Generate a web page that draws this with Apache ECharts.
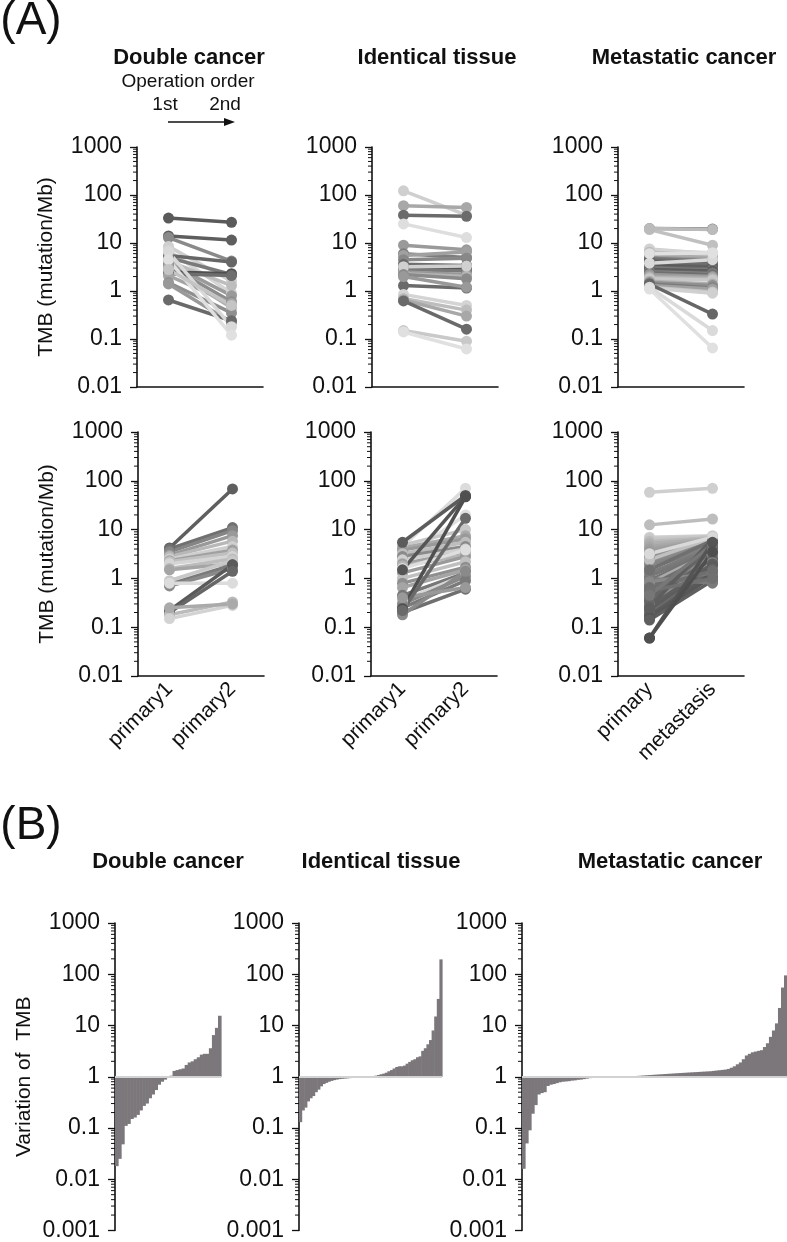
<!DOCTYPE html>
<html><head><meta charset="utf-8">
<script src="https://cdn.jsdelivr.net/npm/echarts@6/dist/echarts.min.js"></script>
<style>html,body{margin:0;padding:0;background:#fff}#c{width:787px;height:1242px}</style>
</head><body><div id="c"></div>
<script>
const FONT = '"Liberation Sans", Arial, sans-serif';

// ---------- Panel A data (TMB, mutation/Mb) ----------
const catsPrimary = ['primary1', 'primary2'];
const catsMet = ['primary', 'metastasis'];
const yTicksA = [0.01, 0.1, 1, 10, 100, 1000];
const yTicksB = [0.001, 0.01, 0.1, 1, 10, 100, 1000];

// Double cancer, TMB decreased
const dcDownFirst  = [33, 14, 13, 8.5, 7, 5.5, 5, 4.2, 3.8, 3.4, 3, 2.5, 2.3, 2.1, 1.5, 1.4, 0.65, 6.5, 4.5, 2.8];
const dcDownSecond = [27, 11.5, 4.2, 1.6, 0.9, 4.0, 2.2, 1.3, 0.8, 0.6, 0.45, 2.3, 2.1, 0.55, 0.35, 0.22, 0.24, 0.18, 0.12, 0.5];
const dcDownShade  = ['#5a5a5a','#5e5e5e','#8a8a8a','#cfcfcf','#d5d5d5','#666666','#7a7a7a','#bdbdbd','#9a9a9a','#8c8c8c','#b0b0b0','#4f4f4f','#6e6e6e','#a5a5a5','#8f8f8f','#999999','#6a6a6a','#d9d9d9','#e0e0e0','#c4c4c4'];

// Identical tissue, TMB decreased
const itDownFirst  = [122, 60, 38, 25, 9, 6, 5.5, 4.5, 3.6, 3.3, 3.0, 2.8, 2.5, 2.3, 3.2, 2.2, 1.3, 0.85, 0.7, 0.65, 0.62, 0.15, 0.14, 2.0];
const itDownSecond = [38, 55, 36, 13, 7.2, 5, 6.5, 4.8, 3.4, 3.1, 2.9, 2.6, 2.2, 2.0, 3.3, 1.8, 1.15, 0.5, 0.4, 0.3, 0.16, 0.09, 0.062, 1.2];
const itDownShade  = ['#cfcfcf','#a8a8a8','#6b6b6b','#dedede','#9a9a9a','#7d7d7d','#a0a0a0','#888888','#6e6e6e','#5f5f5f','#555555','#7a7a7a','#999999','#b5b5b5','#d0d0d0','#8a8a8a','#6a6a6a','#d4d4d4','#bdbdbd','#a8a8a8','#6a6a6a','#c9c9c9','#e0e0e0','#999999'];

// Metastatic cancer, TMB decreased
const mcDownFirst  = [20, 19, 20, 7.5, 7, 6.5, 5.8, 5, 4.8, 4.5, 4.2, 4.0, 3.8, 3.5, 3.3, 3.1, 3.0, 2.8, 2.6, 2.5, 2.4, 2.2, 2.0, 1.9, 1.8, 1.6, 1.5, 1.4, 1.3, 1.2, 1.15, 1.4, 1.2, 1.1, 3.8, 6];
const mcDownSecond = [19.5, 9, 19, 6, 6.3, 5.5, 4.8, 4.5, 4.2, 4.0, 3.8, 3.5, 3.6, 3.2, 3.0, 2.9, 2.7, 2.6, 2.4, 2.3, 2.2, 2.0, 1.9, 1.8, 1.7, 1.4, 1.3, 1.15, 1.1, 0.95, 0.9, 0.33, 0.15, 0.065, 4.5, 6.2];
const mcDownShade  = ['#777777','#c0c0c0','#bbbbbb','#cfcfcf','#d5d5d5','#bdbdbd','#aaaaaa','#9a9a9a','#7b7b7b','#6e6e6e','#666666','#5e5e5e','#707070','#626262','#5a5a5a','#6a6a6a','#7a7a7a','#5c5c5c','#676767','#8a8a8a','#6f6f6f','#999999','#a5a5a5','#b5b5b5','#c8c8c8','#b0b0b0','#8f8f8f','#7a7a7a','#a0a0a0','#c5c5c5','#d0d0d0','#666666','#dadada','#e0e0e0','#d9d9d9','#e0e0e0'];

// Double cancer, TMB increased
const dcUpFirst  = [4.2, 4.0, 3.5, 3.0, 2.8, 2.5, 2.3, 2.2, 2.0, 1.6, 1.5, 0.9, 0.75, 0.7, 0.8, 0.22, 0.2, 0.18, 0.15, 0.25];
const dcUpSecond = [68, 11, 9.5, 7.5, 5.8, 4.5, 3.8, 3.3, 2.8, 2.5, 2.0, 2.3, 1.9, 1.6, 0.8, 1.9, 1.4, 0.33, 0.28, 0.3];
const dcUpShade  = ['#5f5f5f','#707070','#858585','#999999','#b8b8b8','#cfcfcf','#a0a0a0','#c0c0c0','#d5d5d5','#bdbdbd','#a5a5a5','#c8c8c8','#7a7a7a','#8a8a8a','#dcdcdc','#5a5a5a','#666666','#bbbbbb','#d3d3d3','#aaaaaa'];

// Identical tissue, TMB increased
const itUpFirst  = [4.5, 2.5, 4.8, 4.2, 3.8, 3.2, 2.8, 2.4, 2.0, 1.8, 1.3, 1.0, 0.8, 0.65, 0.45, 0.35, 0.3, 0.25, 0.2, 0.18, 1.6, 0.4, 5.5, 1.5, 0.24, 0.22];
const itUpSecond = [70, 20, 10, 7.5, 6.5, 5.5, 4.5, 4.0, 3.5, 3.0, 2.8, 2.2, 1.7, 1.5, 1.3, 1.2, 1.1, 0.9, 0.6, 1.4, 3.8, 0.65, 50, 48, 47, 17];
const itUpShade  = ['#dcdcdc','#e0e0e0','#c8c8c8','#aaaaaa','#999999','#bdbdbd','#8a8a8a','#d0d0d0','#a0a0a0','#b5b5b5','#9a9a9a','#c0c0c0','#8f8f8f','#a5a5a5','#777777','#d6d6d6','#888888','#7a7a7a','#6f6f6f','#8a8a8a','#dedede','#999999','#5c5c5c','#555555','#4f4f4f','#6a6a6a'];

// Metastatic cancer, TMB increased
const mcUpFirst  = [58, 12.5, 7.0, 6.5, 5.8, 5.2, 4.5, 4.0, 3.5, 3.0, 2.6, 2.2, 1.9, 1.6, 1.3, 1.1, 0.9, 0.8, 0.7, 0.6, 0.5, 0.42, 0.36, 0.3, 0.26, 0.22, 0.19, 0.17, 0.15, 0.14, 1.0, 0.85, 0.65, 2.4, 1.5, 0.33, 0.25, 0.55, 3.2, 0.45, 0.06, 0.06];
const mcUpSecond = [70, 16.5, 7.5, 7.2, 6.8, 6.5, 6.2, 6.0, 5.8, 5.5, 5.2, 5.0, 4.8, 4.5, 4.2, 4.0, 3.8, 3.5, 3.2, 3.0, 2.8, 2.5, 2.3, 2.1, 2.0, 1.8, 1.5, 1.3, 1.1, 0.9, 0.8, 1.3, 1.4, 6.8, 6.0, 4.5, 6.5, 1.0, 7.0, 5.0, 5.5, 3.5];
const mcUpShade  = ['#cfcfcf','#bdbdbd','#d0d0d0','#c8c8c8','#bbbbbb','#b0b0b0','#a8a8a8','#a0a0a0','#9a9a9a','#959595','#8f8f8f','#8a8a8a','#858585','#808080','#7b7b7b','#777777','#737373','#aaaaaa','#6f6f6f','#6b6b6b','#888888','#676767','#636363','#909090','#606060','#5d5d5d','#6a6a6a','#5a5a5a','#575757','#5f5f5f','#7a7a7a','#888888','#6f6f6f','#c0c0c0','#707070','#666666','#5e5e5e','#707070','#d9d9d9','#777777','#545454','#4f4f4f'];

// ---------- Panel B data (variation of TMB, sorted) ----------
const varDouble = [0.018, 0.025, 0.048, 0.11, 0.12, 0.15, 0.16, 0.18, 0.22, 0.27, 0.3, 0.38, 0.45, 0.55, 0.7, 0.8, 0.88, 0.95,
  1.05, 1.3, 1.35, 1.4, 1.45, 1.7, 1.9, 2.0, 2.2, 2.4, 2.7, 2.8, 2.8, 3.6, 6.5, 9, 15.5];
const varIdentical = [0.13, 0.22, 0.25, 0.33, 0.38, 0.42, 0.5, 0.56, 0.65, 0.72, 0.76, 0.8, 0.83, 0.86, 0.88, 0.9, 0.91, 0.92, 0.93, 0.94, 0.95, 0.96, 0.97, 0.98, 0.99,
  1.0, 1.0, 1.01, 1.02,
  1.05, 1.08, 1.12, 1.15, 1.2, 1.28, 1.35, 1.45, 1.55, 1.6, 1.6, 1.65, 1.8, 1.95, 2.1, 2.2, 2.4, 2.5, 3.2, 3.6, 4.3, 5.2, 8, 15, 33, 195];
const varMetastatic = [0.016, 0.05, 0.09, 0.19, 0.28, 0.45, 0.48, 0.5, 0.66, 0.7, 0.72, 0.75, 0.78, 0.8, 0.81, 0.82, 0.84, 0.85, 0.87, 0.88, 0.9, 0.92, 0.94, 0.96, 0.98,
  0.99, 0.99, 1.0, 1.0, 1.0, 1.0, 1.0, 1.0, 1.0, 1.01, 1.01, 1.02, 1.03,
  1.04, 1.05, 1.06, 1.07, 1.08, 1.09, 1.1, 1.11, 1.12, 1.13, 1.14, 1.15, 1.16, 1.17, 1.18, 1.19, 1.2, 1.21, 1.22, 1.23, 1.24, 1.25, 1.26, 1.27, 1.28, 1.3, 1.32, 1.34, 1.36, 1.38,
  1.42, 1.5, 1.6, 1.75, 1.9, 2.2, 2.6, 2.8, 3.0, 3.1, 3.2, 3.3, 3.8, 4.5, 6, 8, 11, 22, 55, 95];

// ---------- layout ----------
const gridsA = [
  {left: 137, top: 147, width: 126, height: 240},
  {left: 372, top: 147, width: 126, height: 240},
  {left: 618, top: 147, width: 126, height: 240},
  {left: 138, top: 432, width: 126, height: 244},
  {left: 371, top: 432, width: 126, height: 244},
  {left: 618, top: 432, width: 126, height: 244}
];
const gridsB = [
  {left: 115, top: 923, width: 106, height: 310},
  {left: 299, top: 923, width: 143, height: 310},
  {left: 522, top: 923, width: 265, height: 310}
];

function fmt(v) { return String(Number(Number(v).toPrecision(3))); }

function yAxisCfg(gi, ticks, name) {
  return {
    type: 'log', logBase: 10, gridIndex: gi,
    min: ticks[0], max: ticks[ticks.length - 1], splitNumber: ticks.length - 1,
    axisLine: {show: true, lineStyle: {color: '#111', width: 1.6}},
    axisTick: {show: true, length: 7, lineStyle: {color: '#111', width: 1.3}},
    axisLabel: {fontSize: 23, color: '#111', margin: 15, fontFamily: FONT, formatter: fmt},
    splitLine: {show: false},
    name: name || '', nameLocation: 'middle', nameGap: 80,
    nameTextStyle: {fontSize: 21, color: '#111', fontFamily: FONT}
  };
}
function xAxisSlope(gi, cats, showLabels) {
  return {
    type: 'category', gridIndex: gi, data: cats, boundaryGap: true,
    axisLine: {show: true, onZero: false, lineStyle: {color: '#111', width: 1.6}},
    axisTick: {show: false},
    axisLabel: {show: showLabels, rotate: 45, fontSize: 21, margin: 10, color: '#111', interval: 0, fontFamily: FONT}
  };
}

function minorValues(ticks) {
  const out = [];
  for (let d = 0; d < ticks.length - 1; d++) {
    for (let k = 2; k <= 9; k++) out.push(Number((k * ticks[d]).toPrecision(3)));
  }
  return out;
}
function minorTickSeries(gi, ticks) {
  return {
    type: 'custom', xAxisIndex: gi, yAxisIndex: gi, silent: true, z: 5,
    data: minorValues(ticks).map(v => [0, v]),
    renderItem: (params, api) => {
      const y = api.coord([0, api.value(1)])[1];
      const x = params.coordSys.x;
      return {type: 'line', shape: {x1: x - 4, y1: y, x2: x, y2: y}, style: {stroke: '#111', lineWidth: 1}};
    }
  };
}

function slopeSeries(gi, first, second, shades) {
  return first.map((f, i) => ({
    type: 'line', xAxisIndex: gi, yAxisIndex: gi,
    data: [f, second[i]],
    symbol: 'circle', symbolSize: 11, silent: true,
    lineStyle: {color: shades[i], width: 3.5},
    itemStyle: {color: shades[i]}
  }));
}

function barSeries(gi, vals) {
  return {
    type: 'custom', xAxisIndex: gi, yAxisIndex: gi, silent: true,
    data: vals.map((v, i) => [i, v]),
    renderItem: (params, api) => {
      const base = api.coord([api.value(0), 1]);
      const top = api.coord([api.value(0), api.value(1)]);
      const w = api.size([1, 0])[0];
      return {type: 'rect', shape: {x: base[0] - w / 2, y: Math.min(base[1], top[1]), width: w + 0.6, height: Math.abs(top[1] - base[1])},
        style: {fill: '#7b777b'}};
    },
    markLine: {silent: true, symbol: 'none', label: {show: false}, animation: false,
      lineStyle: {color: '#d2d2d2', width: 2, type: 'solid'}, data: [{yAxis: 1}]}
  };
}

const grids = gridsA.concat(gridsB);
const xAxes = [
  xAxisSlope(0, catsPrimary, false), xAxisSlope(1, catsPrimary, false), xAxisSlope(2, catsMet, false),
  xAxisSlope(3, catsPrimary, true), xAxisSlope(4, catsPrimary, true), xAxisSlope(5, catsMet, true),
  {type: 'category', gridIndex: 6, data: varDouble.map((v, i) => i), show: false, boundaryGap: true},
  {type: 'category', gridIndex: 7, data: varIdentical.map((v, i) => i), show: false, boundaryGap: true},
  {type: 'category', gridIndex: 8, data: varMetastatic.map((v, i) => i), show: false, boundaryGap: true}
];
const yAxes = [
  yAxisCfg(0, yTicksA, 'TMB (mutation/Mb)'), yAxisCfg(1, yTicksA), yAxisCfg(2, yTicksA),
  yAxisCfg(3, yTicksA, 'TMB (mutation/Mb)'), yAxisCfg(4, yTicksA), yAxisCfg(5, yTicksA),
  yAxisCfg(6, yTicksB, 'Variation of  TMB'), yAxisCfg(7, yTicksB), yAxisCfg(8, yTicksB)
];

let series = [];
series = series.concat(slopeSeries(0, dcDownFirst, dcDownSecond, dcDownShade));
series = series.concat(slopeSeries(1, itDownFirst, itDownSecond, itDownShade));
series = series.concat(slopeSeries(2, mcDownFirst, mcDownSecond, mcDownShade));
series = series.concat(slopeSeries(3, dcUpFirst, dcUpSecond, dcUpShade));
series = series.concat(slopeSeries(4, itUpFirst, itUpSecond, itUpShade));
series = series.concat(slopeSeries(5, mcUpFirst, mcUpSecond, mcUpShade));
series.push(barSeries(6, varDouble), barSeries(7, varIdentical), barSeries(8, varMetastatic));
for (let g = 0; g < 6; g++) series.push(minorTickSeries(g, yTicksA));
for (let g = 6; g < 9; g++) series.push(minorTickSeries(g, yTicksB));

function txt(text, x, y, size, bold) {
  return {type: 'text', silent: true, z: 100,
    style: {text: text, x: x, y: y, fill: '#111',
      font: (bold ? 'bold ' : '') + size + 'px ' + FONT,
      align: 'center', verticalAlign: 'middle', textAlign: 'center', textVerticalAlign: 'middle'}};
}

const graphics = [
  txt('(A)', 31, 21, 46, false),
  txt('(B)', 31, 826, 46, false),
  txt('Double cancer', 189, 58, 22, true),
  txt('Identical tissue', 437, 58, 22, true),
  txt('Metastatic cancer', 684, 58, 22, true),
  txt('Operation order', 188, 82, 19, false),
  txt('1st', 165, 105, 19, false),
  txt('2nd', 225, 105, 19, false),
  txt('Double cancer', 168, 862, 22, true),
  txt('Identical tissue', 381, 862, 22, true),
  txt('Metastatic cancer', 670, 862, 22, true),
  {type: 'line', silent: true, shape: {x1: 168, y1: 122, x2: 226, y2: 122}, style: {stroke: '#111', lineWidth: 1.5}},
  {type: 'polygon', silent: true, shape: {points: [[235, 122], [224, 118], [224, 126]]}, style: {fill: '#111'}}
];

const chart = echarts.init(document.getElementById('c'), null, {renderer: 'canvas'});
chart.setOption({
  animation: false,
  backgroundColor: '#ffffff',
  textStyle: {fontFamily: FONT},
  grid: grids,
  xAxis: xAxes,
  yAxis: yAxes,
  series: series,
  graphic: graphics
});
</script></body></html>
